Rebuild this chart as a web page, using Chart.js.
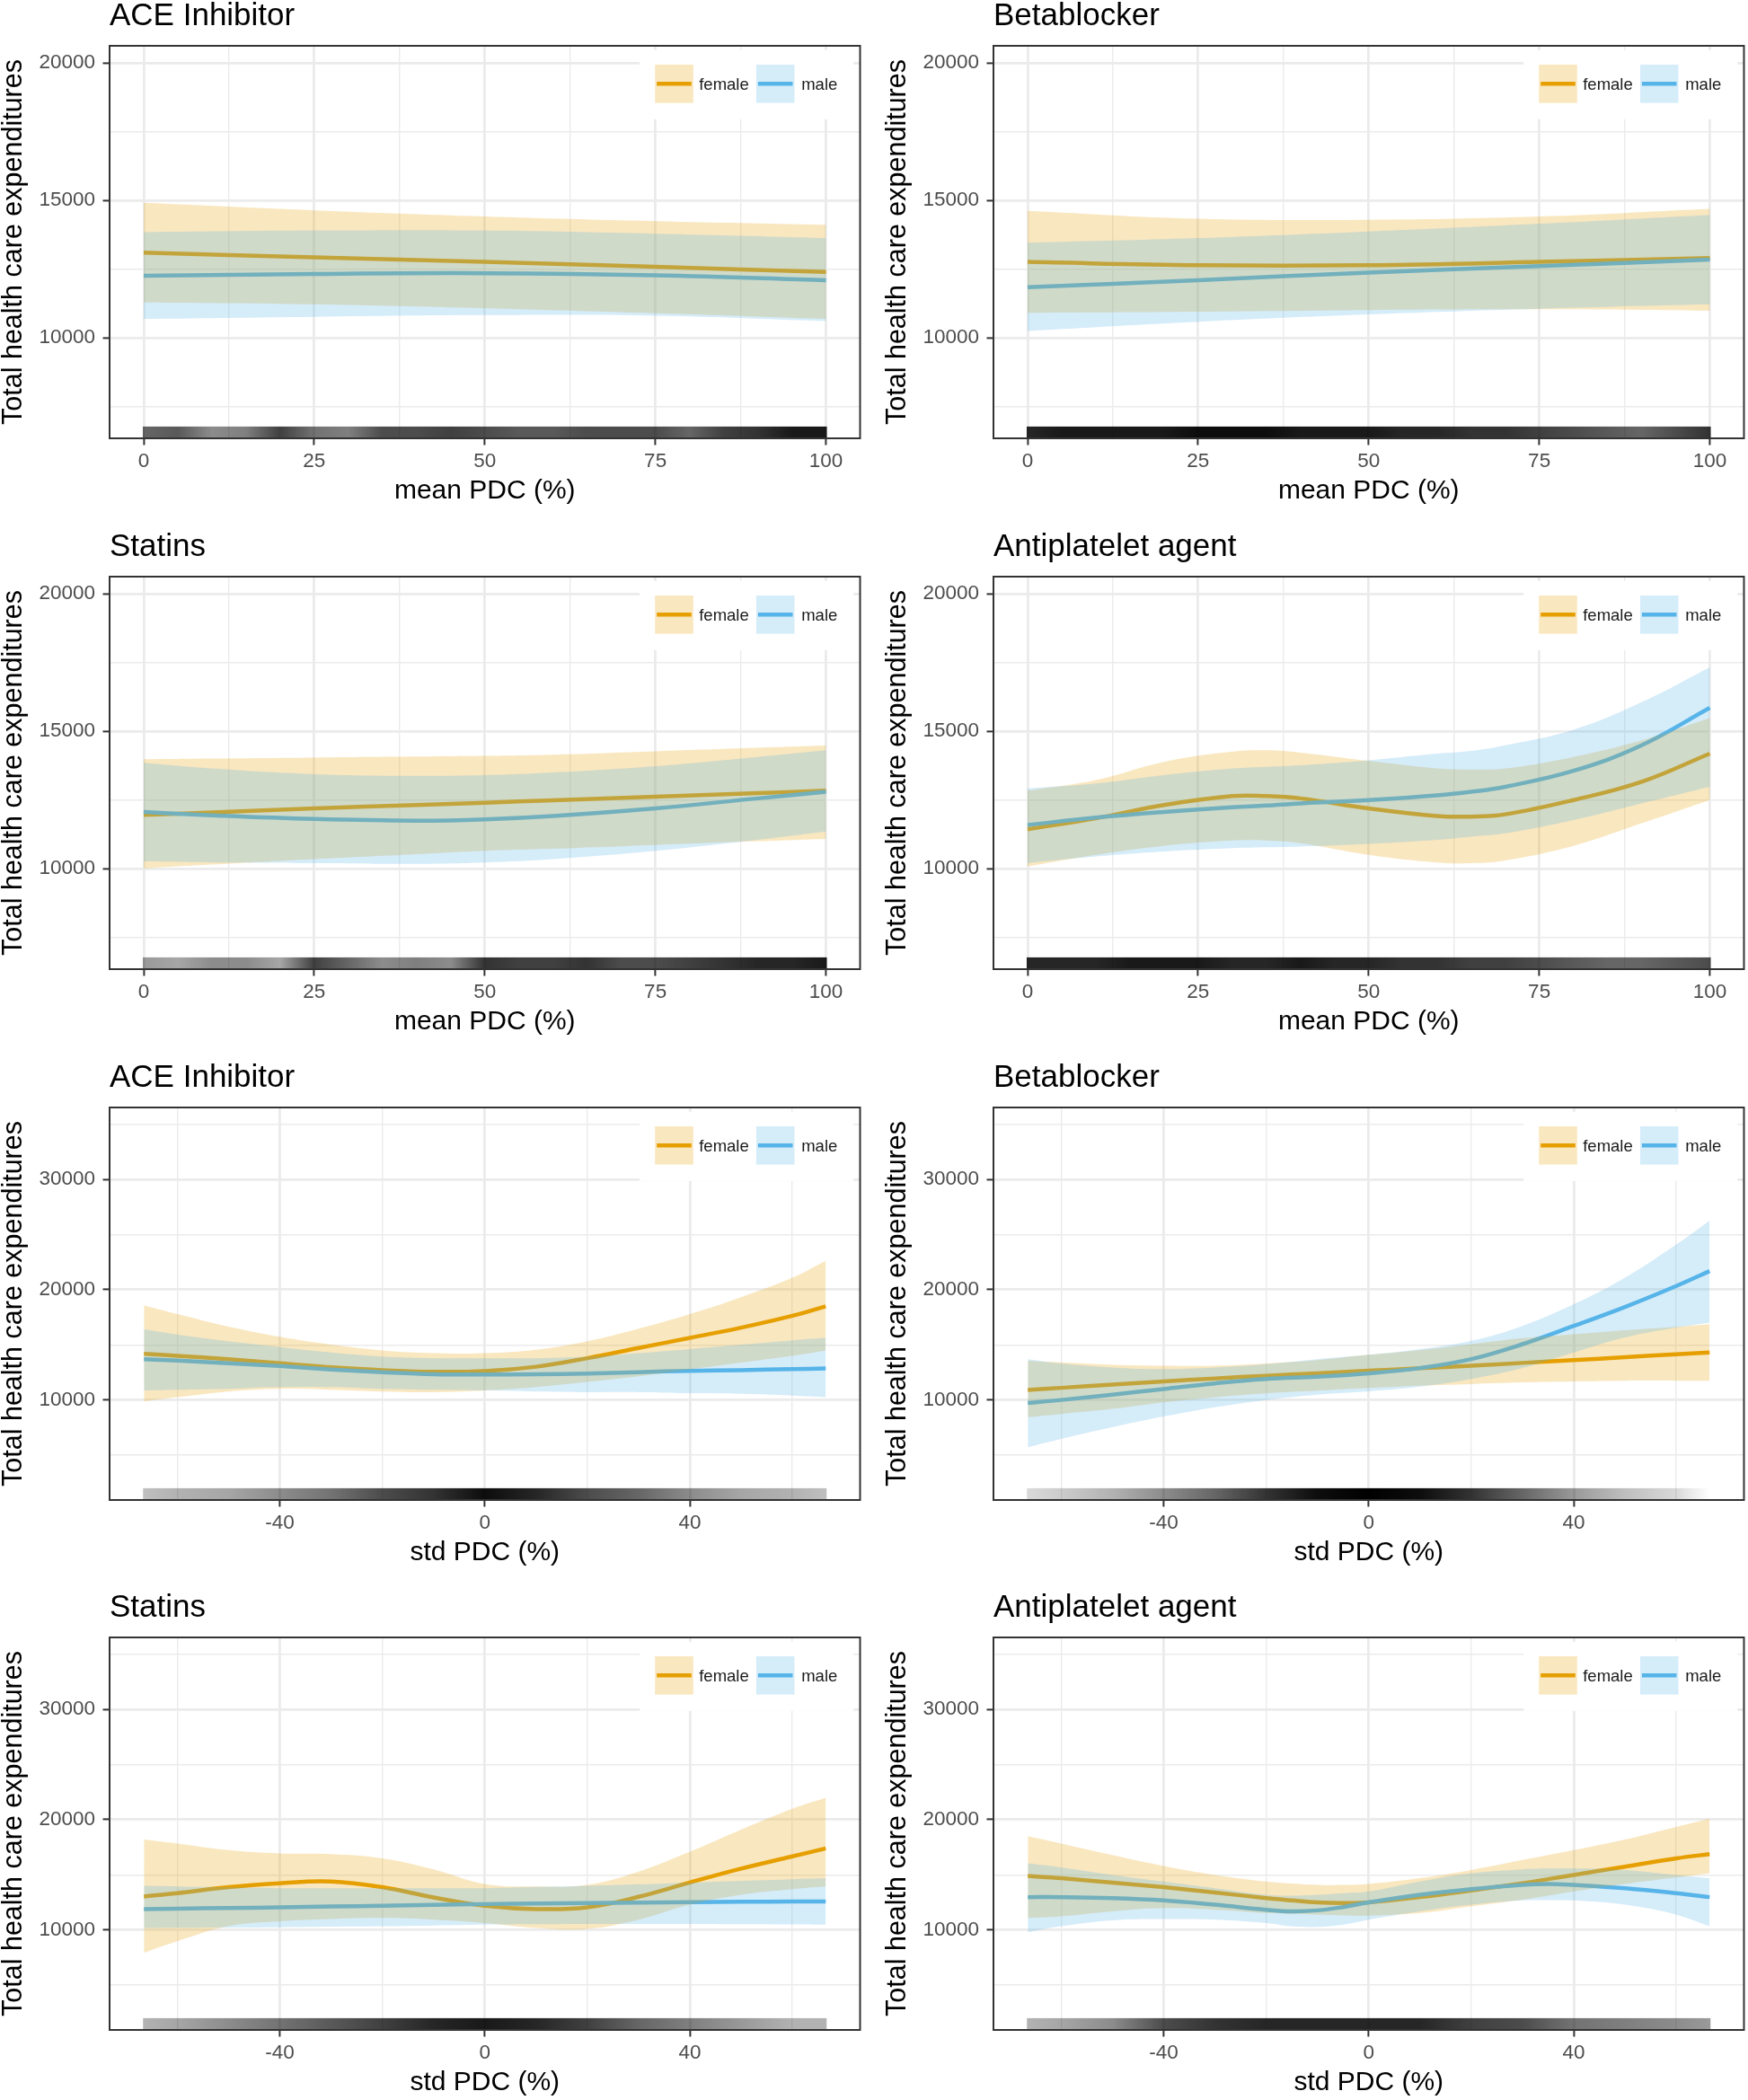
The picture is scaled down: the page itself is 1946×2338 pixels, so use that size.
<!DOCTYPE html>
<html><head><meta charset="utf-8">
<script src="https://cdn.jsdelivr.net/npm/chart.js@4.4.1/dist/chart.umd.min.js"></script>
<style>
html,body{margin:0;padding:0;background:#fff;width:1946px;height:2338px;overflow:hidden;}
.panel{position:absolute;}
</style></head><body>
<script>
// ---------------- text ----------------
const seriesLabels = ['female', 'male'];
const panelTitles = ['ACE Inhibitor', 'Betablocker', 'Statins', 'Antiplatelet agent',
                     'ACE Inhibitor', 'Betablocker', 'Statins', 'Antiplatelet agent'];
const xTitleMean = 'mean PDC (%)';
const xTitleStd = 'std PDC (%)';
const yTitle = 'Total health care expenditures';

// ---------------- tick values ----------------
const meanXMajor = [0, 25, 50, 75, 100];
const meanXMinor = [12.5, 37.5, 62.5, 87.5];
const stdXMajor = [-40, 0, 40];
const stdXMinor = [-60, -20, 20, 60];
const meanYMajor = [10000, 15000, 20000];
const meanYMinor = [7500, 12500, 17500];
const stdYMajor = [10000, 20000, 30000];
const stdYMinor = [5000, 15000, 25000, 35000];
const meanXRange = [-5, 105];
const stdXRange = [-73.2, 73.2];
const meanYRange = [6345, 20630];
const stdYRange = [930, 36520];

// ---------------- ACE Inhibitor, mean PDC ----------------
const aceMeanX = [0, 25, 50, 75, 100];
const aceMeanFemale = [13100, 12930, 12765, 12585, 12400];
const aceMeanFemaleHi = [14915, 14640, 14420, 14250, 14120];
const aceMeanFemaleLo = [11290, 11220, 11075, 10895, 10690];
const aceMeanMale = [12260, 12330, 12355, 12280, 12100];
const aceMeanMaleHi = [13850, 13910, 13910, 13790, 13635];
const aceMeanMaleLo = [10690, 10770, 10830, 10810, 10615];

// ---------------- Betablocker, mean PDC ----------------
const betaMeanX = [0, 25, 50, 75, 100];
const betaMeanFemale = [12765, 12645, 12645, 12765, 12910];
const betaMeanFemaleHi = [14625, 14335, 14300, 14420, 14700];
const betaMeanFemaleLo = [10915, 10955, 11015, 11040, 10990];
const betaMeanMale = [11845, 12100, 12380, 12610, 12850];
const betaMeanMaleHi = [13465, 13635, 13875, 14155, 14480];
const betaMeanMaleLo = [10255, 10590, 10855, 11060, 11220];

// ---------------- Statins, mean PDC ----------------
const statMeanX = [0, 10, 25, 40, 50, 60, 75, 90, 100];
const statMeanFemale = [11956, 12050, 12197, 12320, 12403, 12490, 12620, 12750, 12838];
const statMeanFemaleHi = [13985, 14010, 14046, 14080, 14106, 14150, 14275, 14400, 14481];
const statMeanFemaleLo = [10011, 10150, 10349, 10530, 10651, 10730, 10868, 11000, 11086];
const statMeanMale = [12065, 11944, 11811, 11750, 11799, 11920, 12197, 12560, 12801];
const statMeanMaleHi = [13852, 13647, 13442, 13381, 13405, 13502, 13732, 14070, 14311];
const statMeanMaleLo = [10265, 10228, 10204, 10180, 10228, 10349, 10651, 11050, 11352];

// ---------------- Antiplatelet agent, mean PDC ----------------
const antiMeanX = [0, 10, 20, 30, 35, 40, 50, 60, 65, 70, 80, 90, 100];
const antiMeanFemale = [11436, 11835, 12318, 12644, 12644, 12560, 12197, 11920, 11896, 11980, 12499, 13164, 14191];
const antiMeanFemaleHi = [12838, 13224, 13889, 14263, 14311, 14227, 13925, 13647, 13611, 13647, 14070, 14674, 15483];
const antiMeanFemaleLo = [10084, 10506, 10833, 11026, 11030, 10930, 10506, 10228, 10204, 10301, 10833, 11654, 12499];
const antiMeanMale = [11593, 11859, 12065, 12234, 12300, 12379, 12499, 12668, 12800, 12982, 13562, 14493, 15858];
const antiMeanMaleHi = [12922, 13103, 13405, 13647, 13710, 13768, 13949, 14191, 14287, 14493, 15060, 16063, 17331];
const antiMeanMaleLo = [10205, 10446, 10627, 10749, 10780, 10808, 10905, 11050, 11170, 11291, 11775, 12379, 12982];

// ---------------- ACE Inhibitor, std PDC ----------------
const aceStdX = [-66.5, -60, -50, -40, -30, -20, -10, 0, 10, 20, 30, 40, 50, 60, 66.5];
const aceStdFemale = [14185, 14000, 13692, 13323, 12954, 12708, 12554, 12615, 13015, 13785, 14708, 15631, 16554, 17631, 18492];
const aceStdFemaleHi = [18554, 17785, 16646, 15723, 15015, 14492, 14246, 14246, 14554, 15323, 16462, 17785, 19323, 21077, 22615];
const aceStdFemaleLo = [9877, 10246, 10769, 11015, 10923, 10769, 10708, 10861, 11169, 11631, 12154, 12769, 13385, 14000, 14462];
const aceStdMale = [13692, 13569, 13323, 13077, 12769, 12523, 12338, 12308, 12338, 12400, 12523, 12646, 12708, 12800, 12861];
const aceStdMaleHi = [16400, 15938, 15323, 14800, 14308, 13938, 13785, 13785, 13785, 13938, 14246, 14615, 15015, 15415, 15631];
const aceStdMaleLo = [10861, 10923, 11015, 11169, 11169, 11015, 10923, 10861, 10769, 10708, 10708, 10615, 10554, 10400, 10246];

// ---------------- Betablocker, std PDC ----------------
const betaStdX = [-66.5, -60, -50, -40, -30, -20, -10, 0, 10, 20, 30, 40, 50, 60, 66.5];
const betaStdFemale = [10904, 11100, 11400, 11687, 11950, 12199, 12420, 12651, 12880, 13103, 13360, 13615, 13880, 14150, 14307];
const betaStdFemaleHi = [13554, 13404, 13193, 13103, 13103, 13313, 13615, 14096, 14518, 15060, 15602, 15964, 16325, 16627, 16868];
const betaStdFemaleLo = [8434, 8735, 9187, 9789, 10241, 10602, 10843, 11084, 11295, 11446, 11596, 11687, 11747, 11747, 11747];
const betaStdMale = [9729, 10000, 10482, 10994, 11506, 11898, 12109, 12410, 12892, 13705, 15060, 16717, 18434, 20331, 21687];
const betaStdMaleHi = [13705, 13313, 12952, 12801, 12952, 13253, 13705, 14096, 14608, 15361, 16717, 18675, 21084, 24096, 26265];
const betaStdMaleLo = [5723, 6476, 7530, 8494, 9337, 10000, 10482, 10783, 11205, 11898, 12892, 14307, 15663, 16566, 17018];

// ---------------- Statins, std PDC ----------------
const statStdX = [-66.5, -60, -50, -40, -30, -20, -10, 0, 10, 20, 30, 40, 50, 60, 66.5];
const statStdFemale = [13033, 13333, 13874, 14234, 14384, 13874, 12943, 12192, 11892, 12042, 13000, 14300, 15556, 16667, 17390];
const statStdFemaleHi = [18198, 17838, 17237, 16937, 16877, 16486, 15495, 14174, 13934, 14084, 15285, 17087, 19099, 20991, 21982];
const statStdFemaleLo = [7928, 8979, 10330, 10781, 10991, 11081, 10931, 10631, 10180, 10090, 10931, 12282, 13183, 13694, 13934];
const statStdMale = [11892, 11930, 11990, 12042, 12120, 12192, 12270, 12342, 12390, 12432, 12480, 12523, 12550, 12570, 12583];
const statStdMaleHi = [13994, 13950, 13870, 13784, 13784, 13784, 13784, 13784, 13890, 13994, 14140, 14294, 14450, 14600, 14685];
const statStdMaleLo = [10180, 10200, 10220, 10240, 10290, 10330, 10400, 10480, 10510, 10541, 10541, 10541, 10520, 10500, 10480];

// ---------------- Antiplatelet agent, std PDC ----------------
const antiStdX = [-66.5, -60, -50, -40, -30, -20, -15, -10, -5, 0, 10, 20, 30, 35, 40, 50, 60, 66.5];
const antiStdFemale = [14895, 14685, 14294, 13874, 13393, 12883, 12673, 12492, 12432, 12492, 12973, 13574, 14234, 14600, 14985, 15736, 16486, 16877];
const antiStdFemaleHi = [18498, 17838, 16787, 15796, 14985, 14384, 14200, 14084, 14084, 14174, 14685, 15435, 16336, 16790, 17237, 18198, 19339, 20090];
const antiStdFemaleLo = [11081, 11231, 11682, 11982, 11832, 11532, 11450, 11381, 11320, 11291, 11532, 12132, 12733, 13100, 13484, 14174, 14745, 15135];
const antiStdMale = [12973, 12973, 12883, 12673, 12282, 11832, 11682, 11772, 12072, 12492, 13183, 13694, 14084, 14174, 14084, 13784, 13333, 12973];
const antiStdMaleHi = [16036, 15676, 14985, 14384, 13784, 13183, 13100, 13183, 13330, 13484, 14384, 15135, 15495, 15560, 15586, 15435, 14985, 14685];
const antiStdMaleLo = [9790, 10330, 10871, 10991, 10931, 10631, 10330, 10270, 10480, 10931, 11682, 12282, 12673, 12700, 12673, 12282, 11382, 10330];

// ---------------- rug (observation density along x, 0..1) ----------------
const meanRugX = [0, 5, 10, 15, 20, 25, 30, 35, 40, 45, 50, 55, 60, 65, 70, 75, 80, 85, 90, 95, 100];
const aceMeanRug = [0.6, 0.65, 0.45, 0.5, 0.75, 0.55, 0.5, 0.7, 0.7, 0.75, 0.7, 0.65, 0.65, 0.7, 0.7, 0.7, 0.6, 0.75, 0.8, 0.9, 0.9];
const betaMeanRug = [0.85, 0.9, 0.9, 0.9, 0.9, 0.95, 0.95, 0.95, 0.9, 0.9, 0.9, 0.85, 0.85, 0.8, 0.8, 0.75, 0.7, 0.65, 0.6, 0.7, 0.8];
const statMeanRug = [0.4, 0.35, 0.45, 0.45, 0.35, 0.75, 0.6, 0.45, 0.5, 0.45, 0.8, 0.75, 0.75, 0.8, 0.7, 0.7, 0.75, 0.8, 0.85, 0.85, 0.9];
const antiMeanRug = [0.85, 0.85, 0.85, 0.9, 0.9, 0.9, 0.85, 0.85, 0.9, 0.85, 0.85, 0.8, 0.8, 0.75, 0.75, 0.7, 0.65, 0.6, 0.6, 0.65, 0.7];
const stdRugX = [-66.5, -60, -50, -40, -30, -20, -10, 0, 10, 20, 30, 40, 50, 60, 66.5];
const aceStdRug = [0.25, 0.3, 0.35, 0.45, 0.55, 0.7, 0.8, 0.95, 0.85, 0.7, 0.6, 0.45, 0.35, 0.3, 0.25];
const betaStdRug = [0.15, 0.2, 0.3, 0.45, 0.6, 0.8, 0.95, 1.0, 0.95, 0.8, 0.6, 0.4, 0.25, 0.15, 0.0];
const statStdRug = [0.3, 0.35, 0.45, 0.55, 0.65, 0.75, 0.85, 0.9, 0.85, 0.75, 0.6, 0.5, 0.4, 0.3, 0.3];
const antiStdRug = [0.3, 0.35, 0.45, 0.7, 0.8, 0.85, 0.85, 0.85, 0.85, 0.75, 0.7, 0.55, 0.5, 0.45, 0.4];

// ---------------- styling ----------------
const FF = "'Liberation Sans', Arial, Helvetica, sans-serif";
const femaleColor = '#E69F00';
const maleColor = '#56B4E9';
const femaleFill = 'rgba(230,159,0,0.25)';
const maleFill = 'rgba(86,180,233,0.25)';

const pts = (xs, ys) => xs.map((x, i) => ({ x: x, y: ys[i] }));

const panels = [
  { x: aceMeanX, f: aceMeanFemale, fh: aceMeanFemaleHi, fl: aceMeanFemaleLo, m: aceMeanMale, mh: aceMeanMaleHi, ml: aceMeanMaleLo, rugX: meanRugX, rug: aceMeanRug, kind: 'mean' },
  { x: betaMeanX, f: betaMeanFemale, fh: betaMeanFemaleHi, fl: betaMeanFemaleLo, m: betaMeanMale, mh: betaMeanMaleHi, ml: betaMeanMaleLo, rugX: meanRugX, rug: betaMeanRug, kind: 'mean' },
  { x: statMeanX, f: statMeanFemale, fh: statMeanFemaleHi, fl: statMeanFemaleLo, m: statMeanMale, mh: statMeanMaleHi, ml: statMeanMaleLo, rugX: meanRugX, rug: statMeanRug, kind: 'mean' },
  { x: antiMeanX, f: antiMeanFemale, fh: antiMeanFemaleHi, fl: antiMeanFemaleLo, m: antiMeanMale, mh: antiMeanMaleHi, ml: antiMeanMaleLo, rugX: meanRugX, rug: antiMeanRug, kind: 'mean' },
  { x: aceStdX, f: aceStdFemale, fh: aceStdFemaleHi, fl: aceStdFemaleLo, m: aceStdMale, mh: aceStdMaleHi, ml: aceStdMaleLo, rugX: stdRugX, rug: aceStdRug, kind: 'std' },
  { x: betaStdX, f: betaStdFemale, fh: betaStdFemaleHi, fl: betaStdFemaleLo, m: betaStdMale, mh: betaStdMaleHi, ml: betaStdMaleLo, rugX: stdRugX, rug: betaStdRug, kind: 'std' },
  { x: statStdX, f: statStdFemale, fh: statStdFemaleHi, fl: statStdFemaleLo, m: statStdMale, mh: statStdMaleHi, ml: statStdMaleLo, rugX: stdRugX, rug: statStdRug, kind: 'std' },
  { x: antiStdX, f: antiStdFemale, fh: antiStdFemaleHi, fl: antiStdFemaleLo, m: antiStdMale, mh: antiStdMaleHi, ml: antiStdMaleLo, rugX: stdRugX, rug: antiStdRug, kind: 'std' }
];

const colX = [0, 984];
const rowY = [0, 591, 1182, 1772];
const CW = 962, CH = 565;

// rug plugin
const rugPlugin = {
  id: 'ggRug',
  afterDatasetsDraw(chart, args, opts) {
    if (!opts || !opts.x) return;
    const ctx = chart.ctx, a = chart.chartArea, xs = chart.scales.x;
    const p0 = xs.getPixelForValue(opts.x[0]);
    const p1 = xs.getPixelForValue(opts.x[opts.x.length - 1]);
    const g = ctx.createLinearGradient(p0, 0, p1, 0);
    opts.x.forEach((v, i) => {
      g.addColorStop((xs.getPixelForValue(v) - p0) / (p1 - p0), 'rgba(0,0,0,' + opts.d[i] + ')');
    });
    const h = 0.03 * (a.bottom - a.top);
    ctx.save();
    ctx.fillStyle = g;
    ctx.fillRect(p0 - 1, a.bottom - h, p1 - p0 + 2, h);
    ctx.restore();
  }
};

// legend plugin (inside panel, top-right)
const legendPlugin = {
  id: 'ggLegend',
  afterDatasetsDraw(chart) {
    const ctx = chart.ctx, a = chart.chartArea;
    const ds = chart.data.datasets;
    ctx.save();
    ctx.fillStyle = '#ffffff';
    ctx.fillRect(a.right - 245.3, a.top + 4.8, 238, 77);
    const keys = [
      { line: ds[0], fill: ds[2], kx: a.right - 228.3, tx: a.right - 179.3 },
      { line: ds[1], fill: ds[4], kx: a.right - 115.6, tx: a.right - 65.3 }
    ];
    const ky = a.top + 21, ks = 42.6;
    keys.forEach(k => {
      ctx.fillStyle = k.fill.backgroundColor;
      ctx.fillRect(k.kx, ky, ks, ks);
      ctx.strokeStyle = k.line.borderColor;
      ctx.lineWidth = 4.5;
      ctx.beginPath();
      ctx.moveTo(k.kx + 2, ky + ks / 2);
      ctx.lineTo(k.kx + ks - 2, ky + ks / 2);
      ctx.stroke();
      ctx.fillStyle = '#1a1a1a';
      ctx.font = '18.5px ' + FF;
      ctx.textAlign = 'left';
      ctx.textBaseline = 'middle';
      ctx.fillText(k.line.label, k.tx, a.top + 43.6);
    });
    ctx.restore();
  }
};

// panel border
const borderPlugin = {
  id: 'ggBorder',
  afterDraw(chart) {
    const ctx = chart.ctx, a = chart.chartArea;
    ctx.save();
    ctx.strokeStyle = '#333333';
    ctx.lineWidth = 2;
    ctx.strokeRect(a.left, a.top, a.right - a.left, a.bottom - a.top);
    ctx.restore();
  }
};

function axisCfg(major, minor, range, titleText, isX) {
  const all = major.concat(minor).sort((p, q) => p - q);
  const isMajor = v => major.indexOf(v) >= 0;
  return {
    type: 'linear',
    position: isX ? 'bottom' : 'left',
    min: range[0],
    max: range[1],
    afterBuildTicks: s => { s.ticks = all.map(v => ({ value: v })); },
    afterFit: s => { if (isX) s.height = 77; else s.width = 122; },
    ticks: {
      autoSkip: false,
      maxRotation: 0,
      minRotation: 0,
      padding: isX ? 5 : 8.5,
      color: '#4d4d4d',
      font: { family: FF, size: 22.5 },
      callback: v => (isMajor(v) ? String(v) : '')
    },
    grid: {
      color: '#ebebeb',
      lineWidth: c => (c.tick && isMajor(c.tick.value) ? 2.8 : 1.4),
      drawTicks: true,
      tickLength: 7.5,
      tickWidth: 2,
      tickColor: c => (c.tick && isMajor(c.tick.value) ? '#333333' : 'rgba(0,0,0,0)')
    },
    border: { display: false },
    title: {
      display: true,
      text: titleText,
      color: '#000000',
      font: isX ? { family: FF, size: 30, lineHeight: 1 } : { family: FF, size: 30.5, lineHeight: 1 },
      padding: isX ? { top: 0, bottom: 3.5 } : { top: 0, bottom: 0 }
    }
  };
}

panels.forEach((p, i) => {
  const col = i % 2, row = Math.floor(i / 2);
  const div = document.createElement('div');
  div.className = 'panel';
  div.style.left = colX[col] + 'px';
  div.style.top = rowY[row] + 'px';
  const cv = document.createElement('canvas');
  cv.width = CW; cv.height = CH;
  cv.style.width = CW + 'px'; cv.style.height = CH + 'px';
  div.appendChild(cv);
  document.body.appendChild(div);

  const isMean = p.kind === 'mean';
  const lineBase = { pointRadius: 0, pointHoverRadius: 0, tension: 0.4, fill: false };
  new Chart(cv.getContext('2d'), {
    type: 'line',
    data: {
      datasets: [
        Object.assign({}, lineBase, { label: seriesLabels[0], data: pts(p.x, p.f), borderColor: femaleColor, borderWidth: 4.5, order: 3 }),
        Object.assign({}, lineBase, { label: seriesLabels[1], data: pts(p.x, p.m), borderColor: maleColor, borderWidth: 4.5, order: 2 }),
        Object.assign({}, lineBase, { label: seriesLabels[0] + ' upper', data: pts(p.x, p.fh), borderWidth: 0, borderColor: 'rgba(0,0,0,0)', backgroundColor: femaleFill, fill: '+1', order: 1 }),
        Object.assign({}, lineBase, { label: seriesLabels[0] + ' lower', data: pts(p.x, p.fl), borderWidth: 0, borderColor: 'rgba(0,0,0,0)', order: 1 }),
        Object.assign({}, lineBase, { label: seriesLabels[1] + ' upper', data: pts(p.x, p.mh), borderWidth: 0, borderColor: 'rgba(0,0,0,0)', backgroundColor: maleFill, fill: '+1', order: 0 }),
        Object.assign({}, lineBase, { label: seriesLabels[1] + ' lower', data: pts(p.x, p.ml), borderWidth: 0, borderColor: 'rgba(0,0,0,0)', order: 0 })
      ]
    },
    options: {
      responsive: false,
      animation: false,
      devicePixelRatio: 1,
      events: [],
      layout: { autoPadding: false, padding: { left: 0, right: 4.5, top: 0, bottom: 0 } },
      scales: {
        x: axisCfg(isMean ? meanXMajor : stdXMajor, isMean ? meanXMinor : stdXMinor, isMean ? meanXRange : stdXRange, isMean ? xTitleMean : xTitleStd, true),
        y: axisCfg(isMean ? meanYMajor : stdYMajor, isMean ? meanYMinor : stdYMinor, isMean ? meanYRange : stdYRange, yTitle, false)
      },
      plugins: {
        legend: { display: false },
        tooltip: { enabled: false },
        title: {
          display: true,
          text: panelTitles[i],
          align: 'start',
          fullSize: false,
          color: '#000000',
          font: { family: FF, size: 35, weight: 'normal', lineHeight: 1 },
          padding: { top: 0.8, bottom: 15.2 }
        },
        ggRug: { x: p.rugX, d: p.rug }
      }
    },
    plugins: [rugPlugin, legendPlugin, borderPlugin]
  });
});
</script>
</body></html>
